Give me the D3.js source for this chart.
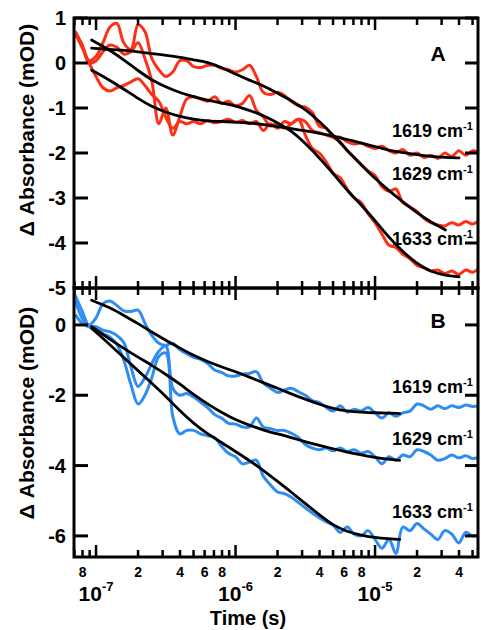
<!DOCTYPE html>
<html>
<head>
<meta charset="utf-8">
<script src="https://cdn.jsdelivr.net/npm/d3@7"></script>
<style>
  html, body { margin: 0; padding: 0; background: #fff; }
  svg { display: block; }
  text { font-family: "Liberation Sans", Arial, Helvetica, sans-serif; font-weight: bold; fill: #000; }
</style>
</head>
<body>
<svg id="chart" width="481" height="630"></svg>
<script>
// Sampling times of the measured transients (s)
const tGrid = [
  7.08e-8, 7.94e-8, 8.91e-8,
  1.00e-7, 1.12e-7, 1.26e-7, 1.41e-7, 1.58e-7, 1.78e-7, 2.00e-7, 2.24e-7, 2.51e-7, 2.82e-7,
  3.16e-7, 3.55e-7, 3.98e-7, 4.47e-7, 5.01e-7, 5.62e-7, 6.31e-7, 7.08e-7, 7.94e-7, 8.91e-7,
  1.00e-6, 1.12e-6, 1.26e-6, 1.41e-6, 1.58e-6, 1.78e-6, 2.00e-6, 2.24e-6, 2.51e-6, 2.82e-6,
  3.16e-6, 3.55e-6, 3.98e-6, 4.47e-6, 5.01e-6, 5.62e-6, 6.31e-6, 7.08e-6, 7.94e-6, 8.91e-6,
  1.00e-5, 1.12e-5, 1.26e-5, 1.41e-5, 1.58e-5, 1.78e-5, 2.00e-5, 2.24e-5, 2.51e-5, 2.82e-5,
  3.16e-5, 3.55e-5, 3.98e-5, 4.47e-5, 5.01e-5, 5.62e-5
];

// Panel A: transient absorbance (mOD)
const traceA1619 = [
  0.65, 0.35, 0.0, -0.3, -0.55, -0.62, -0.55, -0.5, -0.42, -0.35,
  -0.5, -0.7, -0.85, -1.2, -1.45, -1.3, -1.35, -1.3, -1.35, -1.28,
  -1.33, -1.3, -1.25, -1.32, -1.28, -1.35, -1.3, -1.5, -1.35, -1.45,
  -1.3, -1.35, -1.25, -1.3, -1.5, -1.55, -1.6, -1.65, -1.65, -1.75,
  -1.8, -1.78, -1.85, -1.9, -1.85, -1.95, -2.0, -1.92, -2.05, -2.0,
  -2.1, -2.05, -2.12, -2.0, -2.08, -1.95, -2.05, -1.95, -2.0
];
const traceA1629 = [
  0.7, 0.4, 0.05, 0.15, 0.45, 0.8, 0.88, 0.45, 0.3, 0.85,
  0.7, 0.1, -0.15, -0.3, -0.2, 0.05, 0.05, -0.08, -0.1, -0.05,
  -0.05, -0.12, -0.15, -0.2, -0.15, -0.05, -0.3, -0.65, -0.7, -0.65,
  -0.72, -0.85, -0.95, -0.98, -1.1, -1.4, -1.45, -1.65, -1.75, -1.95,
  -2.1, -2.25, -2.4, -2.5, -2.75, -2.85, -2.8, -3.1, -3.2, -3.3,
  -3.45, -3.55, -3.6, -3.62, -3.55, -3.6, -3.52, -3.58, -3.48
];
const traceA1633 = [
  0.7, 0.4, 0.0, 0.05, 0.25, 0.4, 0.35, 0.2, 0.25, 0.45,
  0.1, -0.4, -1.35, -1.0, -1.6, -1.2, -0.8, -0.75, -0.8, -0.85,
  -0.75, -0.9, -0.85, -0.95, -0.9, -0.72, -1.05, -1.2, -1.4, -1.35,
  -1.45, -1.35, -1.25, -1.6, -1.9, -2.0, -2.2, -2.45, -2.55, -2.8,
  -3.0, -3.1, -3.35, -3.55, -3.8, -4.05, -4.1, -4.25, -4.35, -4.5,
  -4.55, -4.62, -4.6, -4.68, -4.62, -4.7, -4.6, -4.65, -4.55
];

// Panel B: transient absorbance (mOD)
const traceB1619 = [
  0.85, 0.4, 0.0, 0.2, 0.6, 0.68, 0.55, 0.4, 0.38, 0.42,
  0.05, -0.3, -0.52, -0.58, -0.52, -0.7, -0.82, -0.92, -0.98, -1.1,
  -1.28, -1.35, -1.45, -1.45, -1.4, -1.38, -1.33, -1.65, -1.8, -1.92,
  -1.85, -1.8, -1.9, -2.0, -2.15, -2.2, -2.35, -2.45, -2.3, -2.48,
  -2.4, -2.45, -2.35, -2.5, -2.65, -2.5, -2.6, -2.5, -2.45, -2.25,
  -2.3, -2.4, -2.3, -2.38, -2.3, -2.35, -2.28, -2.32, -2.3
];
const traceB1629 = [
  0.3, 0.05, -0.05, -0.05, -0.15, -0.2, -0.3, -0.5, -1.2, -1.75,
  -1.5, -1.1, -0.75, -0.6, -1.8, -2.0, -1.95, -2.05, -2.2, -2.35,
  -2.55, -2.65, -2.8, -2.82, -2.9, -2.9, -2.65, -2.9, -2.95, -3.0,
  -3.0, -3.08, -3.2, -3.4, -3.5, -3.55, -3.5, -3.58, -3.5, -3.6,
  -3.55, -3.65, -3.6, -3.75, -3.95, -3.75, -3.85, -3.7, -3.75, -3.55,
  -3.6, -3.7, -3.85, -3.8, -3.7, -3.78, -3.72, -3.8, -3.75
];
const traceB1633 = [
  0.7, 0.2, -0.05, -0.1, -0.25, -0.35, -0.55, -1.0, -1.7, -2.25,
  -2.0, -1.5, -0.9, -0.8, -2.6, -3.1, -3.0, -3.0, -3.1, -3.15,
  -3.2, -3.45, -3.65, -3.75, -3.95, -3.9, -3.85, -4.3, -4.55, -4.75,
  -4.8, -4.9, -5.05, -5.2, -5.35, -5.48, -5.6, -5.7, -5.9, -5.75,
  -5.95, -6.0, -5.85, -6.1, -6.35, -6.1, -6.5, -5.75, -5.85, -5.65,
  -5.8, -5.95, -6.1, -5.85, -5.95, -6.2, -5.9, -6.0, -5.95
];

// Kinetic fits, panel A
const tFitA = [
  9.3e-8, 1.25e-7, 1.6e-7, 2.0e-7, 2.5e-7, 3.2e-7, 4.0e-7, 5.0e-7, 6.3e-7, 8.0e-7,
  1.0e-6, 1.25e-6, 1.6e-6, 2.0e-6, 2.5e-6, 3.2e-6, 4.0e-6, 5.0e-6, 6.3e-6, 8.0e-6,
  1.0e-5, 1.25e-5, 1.6e-5, 2.0e-5, 2.5e-5, 3.2e-5, 4.0e-5
];
const fitA1619 = [
  -0.16, -0.38, -0.59, -0.79, -0.97, -1.10, -1.19, -1.25, -1.29, -1.30,
  -1.31, -1.33, -1.37, -1.41, -1.46, -1.51, -1.56, -1.62, -1.70, -1.78,
  -1.86, -1.94, -1.99, -2.04, -2.08, -2.10, -2.11
];
const fitA1629 = [
  0.33, 0.30, 0.28, 0.25, 0.21, 0.17, 0.13, 0.07, 0.02, -0.10,
  -0.25, -0.38, -0.51, -0.67, -0.83, -1.04, -1.30, -1.60, -1.94, -2.27,
  -2.57, -2.83, -3.10, -3.33, -3.53, -3.71
];
const fitA1633 = [
  0.51, 0.29, 0.06, -0.17, -0.38, -0.54, -0.66, -0.75, -0.83, -0.89,
  -0.95, -1.05, -1.17, -1.33, -1.50, -1.80, -2.11, -2.45, -2.83, -3.16,
  -3.50, -3.87, -4.21, -4.46, -4.64, -4.72, -4.75
];

// Kinetic fits, panel B
const tFitB = [
  9.3e-8, 1.25e-7, 1.6e-7, 2.0e-7, 2.5e-7, 3.2e-7, 4.0e-7, 5.0e-7, 6.3e-7, 8.0e-7,
  1.0e-6, 1.25e-6, 1.6e-6, 2.0e-6, 2.5e-6, 3.2e-6, 4.0e-6, 5.0e-6, 6.3e-6, 8.0e-6,
  1.0e-5, 1.25e-5, 1.5e-5
];
const fitB1619 = [
  0.70, 0.50, 0.26, 0.04, -0.20, -0.45, -0.66, -0.87, -1.04, -1.20,
  -1.33, -1.48, -1.65, -1.80, -1.96, -2.12, -2.26, -2.38, -2.45, -2.48,
  -2.50, -2.51, -2.52
];
const fitB1629 = [
  -0.05, -0.40, -0.68, -0.92, -1.14, -1.42, -1.68, -1.98, -2.25, -2.50,
  -2.70, -2.85, -3.00, -3.10, -3.20, -3.33, -3.43, -3.52, -3.62, -3.70,
  -3.77, -3.82, -3.85
];
const fitB1633 = [
  -0.10, -0.55, -0.95, -1.30, -1.65, -2.05, -2.45, -2.80, -3.10, -3.35,
  -3.60, -3.85, -4.15, -4.45, -4.75, -5.10, -5.40, -5.70, -5.88, -5.98,
  -6.05, -6.08, -6.10
];

// Axis ticks and labels
const wavenumbers = ["1619", "1629", "1633"];
const yTicksA = [1, 0, -1, -2, -3, -4, -5];
const yTicksB = [0, -2, -4, -6];
const minorLabelDigits = [2, 4, 6, 8];

// ---------------------------------------------------------------------
const svg = d3.select("#chart");
const left = 74, right = 478;
const x = d3.scaleLog().domain([6.95e-8, 5.47e-5]).range([left, right]);

const panels = [
  {
    id: "A", top: 18, bottom: 288, domain: [1, -5], ticks: yTicksA,
    color: "#ff2e17",
    traces: [traceA1619, traceA1629, traceA1633],
    tFit: tFitA, fits: [fitA1619, fitA1629, fitA1633],
    labelY: [137, 180, 245], letterY: 61, titleY: 130
  },
  {
    id: "B", top: 288, bottom: 557, domain: [1.05, -6.6], ticks: yTicksB,
    color: "#2f8cf2",
    traces: [traceB1619, traceB1629, traceB1633],
    tFit: tFitB, fits: [fitB1619, fitB1629, fitB1633],
    labelY: [393, 445, 518], letterY: 328, titleY: 413
  }
];

const xTicks = x.ticks();
const mantissa = t => Math.round(t / Math.pow(10, Math.floor(Math.log10(t) + 1e-9)));
const isMajor = t => mantissa(t) === 1;

panels.forEach(p => {
  const y = d3.scaleLinear().domain(p.domain).range([p.top, p.bottom]);
  const g = svg.append("g");

  const clipId = "clip" + p.id;
  svg.append("clipPath").attr("id", clipId)
    .append("rect").attr("x", left).attr("y", p.top)
    .attr("width", right - left).attr("height", p.bottom - p.top);

  const plot = g.append("g").attr("clip-path", `url(#${clipId})`);

  const traceLine = d3.line()
    .x((d, i) => x(tGrid[i]))
    .y(d => y(d))
    .curve(d3.curveCatmullRom.alpha(0.5));

  plot.selectAll("path.trace").data(p.traces).join("path")
    .attr("class", "trace")
    .attr("d", traceLine)
    .attr("fill", "none")
    .attr("stroke", p.color)
    .attr("stroke-width", 3)
    .attr("stroke-linejoin", "round");

  const fitLine = d3.line()
    .x((d, i) => x(p.tFit[i]))
    .y(d => y(d))
    .curve(d3.curveBasis);

  plot.selectAll("path.fit").data(p.fits).join("path")
    .attr("class", "fit")
    .attr("d", fitLine)
    .attr("fill", "none")
    .attr("stroke", "#000")
    .attr("stroke-width", 2.8)
    .attr("stroke-linecap", "round");

  // frame
  g.append("rect")
    .attr("x", left).attr("y", p.top)
    .attr("width", right - left).attr("height", p.bottom - p.top)
    .attr("fill", "none").attr("stroke", "#000").attr("stroke-width", 3);

  // y ticks (inward on both sides)
  p.ticks.forEach(v => {
    const yy = y(v);
    g.append("line").attr("x1", left).attr("x2", left + 14)
      .attr("y1", yy).attr("y2", yy).attr("stroke", "#000").attr("stroke-width", 3);
    g.append("line").attr("x1", right - 13).attr("x2", right)
      .attr("y1", yy).attr("y2", yy).attr("stroke", "#000").attr("stroke-width", 3);
    g.append("text").attr("x", 66).attr("y", yy).attr("dy", "0.36em")
      .attr("text-anchor", "end").attr("font-size", 20)
      .text(String(v));
  });

  // x ticks on top and bottom borders (inward)
  xTicks.forEach(t => {
    const xx = x(t);
    const len = isMajor(t) ? 12 : 7;
    g.append("line").attr("x1", xx).attr("x2", xx)
      .attr("y1", p.top).attr("y2", p.top + len)
      .attr("stroke", "#000").attr("stroke-width", 2.5);
    g.append("line").attr("x1", xx).attr("x2", xx)
      .attr("y1", p.bottom).attr("y2", p.bottom - len)
      .attr("stroke", "#000").attr("stroke-width", 2.5);
  });

  // panel letter
  g.append("text").attr("x", 438).attr("y", p.letterY)
    .attr("text-anchor", "middle").attr("font-size", 21).text(p.id);

  // wavenumber labels
  wavenumbers.forEach((w, i) => {
    const t = g.append("text").attr("x", 392).attr("y", p.labelY[i]).attr("font-size", 18);
    t.append("tspan").text(w + " cm");
    t.append("tspan").attr("font-size", 11).attr("dy", -7).text("-1");
  });

  // y-axis title
  g.append("text")
    .attr("transform", `translate(34,${p.titleY}) rotate(-90)`)
    .attr("text-anchor", "middle").attr("font-size", 21)
    .text("\u0394 Absorbance (mOD)");
});

// x-axis labels beneath panel B
const axisG = svg.append("g");
xTicks.filter(t => minorLabelDigits.includes(mantissa(t)) && t < 5e-5).forEach(t => {
  axisG.append("text").attr("x", x(t)).attr("y", 577)
    .attr("text-anchor", "middle").attr("font-size", 14).text(mantissa(t));
});
xTicks.filter(isMajor).forEach(t => {
  const e = Math.round(Math.log10(t));
  const lbl = axisG.append("text").attr("x", x(t)).attr("y", 601)
    .attr("text-anchor", "middle").attr("font-size", 21);
  lbl.append("tspan").text("10");
  lbl.append("tspan").attr("font-size", 13).attr("dy", -10).text(String(e));
});
axisG.append("text").attr("x", 248).attr("y", 625)
  .attr("text-anchor", "middle").attr("font-size", 20).text("Time (s)");
</script>
</body>
</html>
